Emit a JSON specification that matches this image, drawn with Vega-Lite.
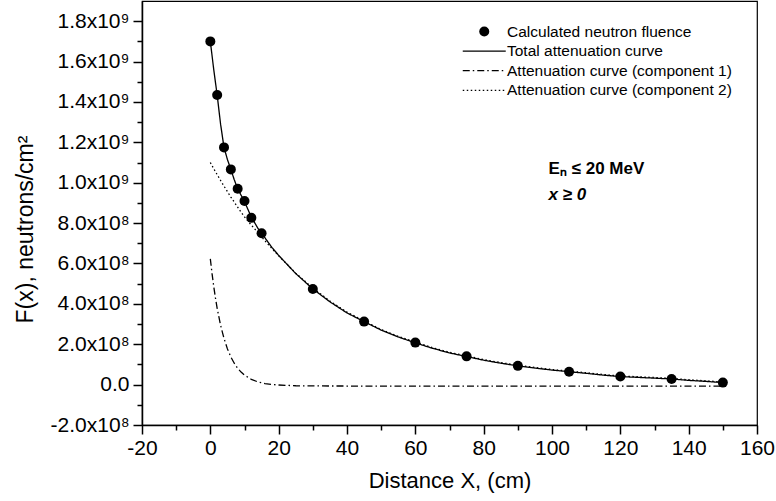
{
  "$schema": "https://vega.github.io/schema/vega-lite/v6.json",
  "width": 615,
  "height": 424,
  "autosize": {"type": "none"},
  "padding": {"left": 142, "top": 1, "right": 19, "bottom": 76},
  "background": "white",
  "config": {
    "view": {"stroke": "black", "strokeWidth": 1.2},
    "font": "Liberation Sans",
    "axis": {
      "domainColor": "black", "tickColor": "black", "labelColor": "black", "titleColor": "black",
      "grid": false, "domainWidth": 1.5, "tickWidth": 1.5,
      "labelFont": "Liberation Sans", "titleFont": "Liberation Sans",
      "labelFontSize": 21, "titleFontSize": 22, "titleFontWeight": "normal"
    }
  },
  "datasets": {
    "fluence": [
      {"x": 0, "y": 1.700e9}, {"x": 2, "y": 1.434e9}, {"x": 4, "y": 1.175e9}, {"x": 6, "y": 1.066e9},
      {"x": 8, "y": 0.970e9}, {"x": 10, "y": 0.909e9}, {"x": 12, "y": 0.826e9}, {"x": 15, "y": 0.750e9},
      {"x": 30, "y": 0.474e9}, {"x": 45, "y": 0.312e9}, {"x": 60, "y": 0.208e9}, {"x": 75, "y": 0.140e9},
      {"x": 90, "y": 0.093e9}, {"x": 105, "y": 0.064e9}, {"x": 120, "y": 0.040e9}, {"x": 135, "y": 0.028e9},
      {"x": 150, "y": 0.010e9}
    ],
    "curves": [
      {"x": 0, "y": 1.700e9, "series": "Total attenuation curve"},
      {"x": 1, "y": 1.560e9, "series": "Total attenuation curve"},
      {"x": 2, "y": 1.434e9, "series": "Total attenuation curve"},
      {"x": 3, "y": 1.290e9, "series": "Total attenuation curve"},
      {"x": 4, "y": 1.175e9, "series": "Total attenuation curve"},
      {"x": 5, "y": 1.115e9, "series": "Total attenuation curve"},
      {"x": 6, "y": 1.066e9, "series": "Total attenuation curve"},
      {"x": 7, "y": 1.015e9, "series": "Total attenuation curve"},
      {"x": 8, "y": 0.970e9, "series": "Total attenuation curve"},
      {"x": 9, "y": 0.938e9, "series": "Total attenuation curve"},
      {"x": 10, "y": 0.906e9, "series": "Total attenuation curve"},
      {"x": 12, "y": 0.830e9, "series": "Total attenuation curve"},
      {"x": 14, "y": 0.772e9, "series": "Total attenuation curve"},
      {"x": 15, "y": 0.750e9, "series": "Total attenuation curve"},
      {"x": 18, "y": 0.680e9, "series": "Total attenuation curve"},
      {"x": 20, "y": 0.640e9, "series": "Total attenuation curve"},
      {"x": 25, "y": 0.550e9, "series": "Total attenuation curve"},
      {"x": 30, "y": 0.474e9, "series": "Total attenuation curve"},
      {"x": 35, "y": 0.410e9, "series": "Total attenuation curve"},
      {"x": 40, "y": 0.355e9, "series": "Total attenuation curve"},
      {"x": 45, "y": 0.312e9, "series": "Total attenuation curve"},
      {"x": 50, "y": 0.270e9, "series": "Total attenuation curve"},
      {"x": 55, "y": 0.236e9, "series": "Total attenuation curve"},
      {"x": 60, "y": 0.207e9, "series": "Total attenuation curve"},
      {"x": 65, "y": 0.180e9, "series": "Total attenuation curve"},
      {"x": 70, "y": 0.157e9, "series": "Total attenuation curve"},
      {"x": 75, "y": 0.139e9, "series": "Total attenuation curve"},
      {"x": 80, "y": 0.121e9, "series": "Total attenuation curve"},
      {"x": 85, "y": 0.106e9, "series": "Total attenuation curve"},
      {"x": 90, "y": 0.093e9, "series": "Total attenuation curve"},
      {"x": 95, "y": 0.082e9, "series": "Total attenuation curve"},
      {"x": 100, "y": 0.072e9, "series": "Total attenuation curve"},
      {"x": 105, "y": 0.064e9, "series": "Total attenuation curve"},
      {"x": 110, "y": 0.056e9, "series": "Total attenuation curve"},
      {"x": 115, "y": 0.047e9, "series": "Total attenuation curve"},
      {"x": 120, "y": 0.040e9, "series": "Total attenuation curve"},
      {"x": 125, "y": 0.036e9, "series": "Total attenuation curve"},
      {"x": 130, "y": 0.032e9, "series": "Total attenuation curve"},
      {"x": 135, "y": 0.028e9, "series": "Total attenuation curve"},
      {"x": 140, "y": 0.021e9, "series": "Total attenuation curve"},
      {"x": 145, "y": 0.016e9, "series": "Total attenuation curve"},
      {"x": 150, "y": 0.010e9, "series": "Total attenuation curve"},

      {"x": 0, "y": 0.623e9, "series": "Attenuation curve (component 1)"},
      {"x": 0.5, "y": 0.550e9, "series": "Attenuation curve (component 1)"},
      {"x": 1, "y": 0.486e9, "series": "Attenuation curve (component 1)"},
      {"x": 1.5, "y": 0.429e9, "series": "Attenuation curve (component 1)"},
      {"x": 2, "y": 0.378e9, "series": "Attenuation curve (component 1)"},
      {"x": 3, "y": 0.294e9, "series": "Attenuation curve (component 1)"},
      {"x": 4, "y": 0.229e9, "series": "Attenuation curve (component 1)"},
      {"x": 5, "y": 0.177e9, "series": "Attenuation curve (component 1)"},
      {"x": 6, "y": 0.137e9, "series": "Attenuation curve (component 1)"},
      {"x": 7, "y": 0.106e9, "series": "Attenuation curve (component 1)"},
      {"x": 8, "y": 0.081e9, "series": "Attenuation curve (component 1)"},
      {"x": 9, "y": 0.062e9, "series": "Attenuation curve (component 1)"},
      {"x": 10, "y": 0.047e9, "series": "Attenuation curve (component 1)"},
      {"x": 12, "y": 0.026e9, "series": "Attenuation curve (component 1)"},
      {"x": 14, "y": 0.013e9, "series": "Attenuation curve (component 1)"},
      {"x": 16, "y": 0.005e9, "series": "Attenuation curve (component 1)"},
      {"x": 18, "y": 0.001e9, "series": "Attenuation curve (component 1)"},
      {"x": 20, "y": -0.002e9, "series": "Attenuation curve (component 1)"},
      {"x": 25, "y": -0.0056e9, "series": "Attenuation curve (component 1)"},
      {"x": 30, "y": -0.0066e9, "series": "Attenuation curve (component 1)"},
      {"x": 40, "y": -0.007e9, "series": "Attenuation curve (component 1)"},
      {"x": 60, "y": -0.007e9, "series": "Attenuation curve (component 1)"},
      {"x": 80, "y": -0.007e9, "series": "Attenuation curve (component 1)"},
      {"x": 100, "y": -0.007e9, "series": "Attenuation curve (component 1)"},
      {"x": 120, "y": -0.007e9, "series": "Attenuation curve (component 1)"},
      {"x": 150, "y": -0.007e9, "series": "Attenuation curve (component 1)"},

      {"x": 0, "y": 1.100e9, "series": "Attenuation curve (component 2)"},
      {"x": 1, "y": 1.0695e9, "series": "Attenuation curve (component 2)"},
      {"x": 2, "y": 1.040e9, "series": "Attenuation curve (component 2)"},
      {"x": 3, "y": 1.011e9, "series": "Attenuation curve (component 2)"},
      {"x": 4, "y": 0.983e9, "series": "Attenuation curve (component 2)"},
      {"x": 5, "y": 0.956e9, "series": "Attenuation curve (component 2)"},
      {"x": 6, "y": 0.929e9, "series": "Attenuation curve (component 2)"},
      {"x": 7, "y": 0.904e9, "series": "Attenuation curve (component 2)"},
      {"x": 8, "y": 0.879e9, "series": "Attenuation curve (component 2)"},
      {"x": 9, "y": 0.854e9, "series": "Attenuation curve (component 2)"},
      {"x": 10, "y": 0.831e9, "series": "Attenuation curve (component 2)"},
      {"x": 12, "y": 0.790e9, "series": "Attenuation curve (component 2)"},
      {"x": 14, "y": 0.752e9, "series": "Attenuation curve (component 2)"},
      {"x": 16, "y": 0.712e9, "series": "Attenuation curve (component 2)"},
      {"x": 18, "y": 0.675e9, "series": "Attenuation curve (component 2)"},
      {"x": 20, "y": 0.638e9, "series": "Attenuation curve (component 2)"},
      {"x": 25, "y": 0.552e9, "series": "Attenuation curve (component 2)"},
      {"x": 30, "y": 0.478e9, "series": "Attenuation curve (component 2)"},
      {"x": 35, "y": 0.414e9, "series": "Attenuation curve (component 2)"},
      {"x": 40, "y": 0.359e9, "series": "Attenuation curve (component 2)"},
      {"x": 45, "y": 0.315e9, "series": "Attenuation curve (component 2)"},
      {"x": 50, "y": 0.273e9, "series": "Attenuation curve (component 2)"},
      {"x": 55, "y": 0.239e9, "series": "Attenuation curve (component 2)"},
      {"x": 60, "y": 0.210e9, "series": "Attenuation curve (component 2)"},
      {"x": 65, "y": 0.183e9, "series": "Attenuation curve (component 2)"},
      {"x": 70, "y": 0.160e9, "series": "Attenuation curve (component 2)"},
      {"x": 75, "y": 0.142e9, "series": "Attenuation curve (component 2)"},
      {"x": 80, "y": 0.124e9, "series": "Attenuation curve (component 2)"},
      {"x": 85, "y": 0.109e9, "series": "Attenuation curve (component 2)"},
      {"x": 90, "y": 0.096e9, "series": "Attenuation curve (component 2)"},
      {"x": 95, "y": 0.085e9, "series": "Attenuation curve (component 2)"},
      {"x": 100, "y": 0.075e9, "series": "Attenuation curve (component 2)"},
      {"x": 105, "y": 0.067e9, "series": "Attenuation curve (component 2)"},
      {"x": 110, "y": 0.059e9, "series": "Attenuation curve (component 2)"},
      {"x": 115, "y": 0.050e9, "series": "Attenuation curve (component 2)"},
      {"x": 120, "y": 0.043e9, "series": "Attenuation curve (component 2)"},
      {"x": 125, "y": 0.039e9, "series": "Attenuation curve (component 2)"},
      {"x": 130, "y": 0.035e9, "series": "Attenuation curve (component 2)"},
      {"x": 135, "y": 0.031e9, "series": "Attenuation curve (component 2)"},
      {"x": 140, "y": 0.024e9, "series": "Attenuation curve (component 2)"},
      {"x": 145, "y": 0.019e9, "series": "Attenuation curve (component 2)"},
      {"x": 150, "y": 0.013e9, "series": "Attenuation curve (component 2)"}
    ]
  },
  "layer": [
    {
      "data": {"name": "curves"},
      "mark": {"type": "line", "color": "black", "strokeWidth": 1.3},
      "encoding": {
        "x": {
          "field": "x", "type": "quantitative",
          "scale": {"domain": [-20, 160], "nice": false, "zero": false},
          "axis": {
            "orient": "bottom",
            "values": [-20, 0, 20, 40, 60, 80, 100, 120, 140, 160],
            "labelExpr": "datum.value < 0 ? '-' + abs(datum.value) : '' + datum.value",
            "tickSize": 9, "labelPadding": 3, "labelFlush": false,
            "title": "Distance X, (cm)", "titlePadding": 12
          }
        },
        "y": {
          "field": "y", "type": "quantitative",
          "scale": {"domain": [-2e8, 1.9e9], "nice": false, "zero": false},
          "axis": {
            "orient": "left",
            "values": [-2e8, 0, 2e8, 4e8, 6e8, 8e8, 1e9, 1.2e9, 1.4e9, 1.6e9, 1.8e9],
            "labelExpr": "abs(datum.value) < 1 ? '0.0' : (datum.value < 0 ? '-' : '') + (abs(datum.value) >= 9.99e8 ? format(abs(datum.value) / 1e9, '.1f') + 'x10⁹' : format(abs(datum.value) / 1e8, '.1f') + 'x10⁸')",
            "tickSize": 9, "labelPadding": 4, "labelFlush": false,
            "title": "F(x), neutrons/cm²", "titlePadding": 13, "titleFontSize": 23, "titleY": 228
          }
        },
        "strokeDash": {
          "field": "series", "type": "nominal",
          "scale": {
            "domain": ["Calculated neutron fluence", "Total attenuation curve", "Attenuation curve (component 1)", "Attenuation curve (component 2)"],
            "range": [[1, 0], [1, 0], [7, 3, 1.5, 3], [1.5, 2.5]]
          },
          "legend": {
            "title": null, "orient": "none", "legendX": 320, "legendY": 23,
            "columns": 1, "padding": 0,
            "labelFontSize": 15.5, "labelFont": "Liberation Sans", "labelColor": "black", "labelLimit": 400,
            "symbolType": "stroke", "symbolSize": 1849, "symbolStrokeColor": "black", "symbolStrokeWidth": 1.3,
            "clipHeight": 15, "rowPadding": 3.6, "labelOffset": 15, "symbolOffset": 14.5,
            "encode": {
              "symbols": {
                "update": {
                  "shape": {"signal": "datum.value === 'Calculated neutron fluence' ? 'circle' : 'stroke'"},
                  "size": {"signal": "datum.value === 'Calculated neutron fluence' ? 100 : 1849"},
                  "fill": {"signal": "datum.value === 'Calculated neutron fluence' ? 'black' : 'transparent'"},
                  "stroke": {"value": "black"},
                  "strokeWidth": {"signal": "datum.value === 'Calculated neutron fluence' ? 0 : 1.3"},
                  "opacity": {"value": 1}
                }
              }
            }
          }
        }
      }
    },
    {
      "data": {"name": "fluence"},
      "mark": {"type": "point", "filled": true, "color": "black", "size": 100, "opacity": 1},
      "encoding": {
        "x": {
          "field": "x", "type": "quantitative",
          "axis": {"orient": "bottom", "values": [-10, 10, 30, 50, 70, 90, 110, 130, 150], "labels": false, "tickSize": 5, "domain": false, "title": null}
        },
        "y": {
          "field": "y", "type": "quantitative",
          "axis": {"orient": "left", "values": [-1e8, 1e8, 3e8, 5e8, 7e8, 9e8, 1.1e9, 1.3e9, 1.5e9, 1.7e9], "labels": false, "tickSize": 5, "domain": false, "title": null}
        }
      }
    },
    {
      "data": {"values": [{}]},
      "mark": {"type": "text", "align": "left", "baseline": "middle", "fontSize": 17, "fontWeight": "bold", "font": "Liberation Sans", "color": "black"},
      "encoding": {
        "x": {"datum": 99, "type": "quantitative", "axis": null},
        "y": {"datum": 1.069e9, "type": "quantitative", "axis": null},
        "text": {"value": "Eₙ ≤  20 MeV"}
      }
    },
    {
      "data": {"values": [{}]},
      "mark": {"type": "text", "align": "left", "baseline": "middle", "fontSize": 17, "fontWeight": "bold", "fontStyle": "italic", "font": "Liberation Sans", "color": "black"},
      "encoding": {
        "x": {"datum": 99, "type": "quantitative", "axis": null},
        "y": {"datum": 0.940e9, "type": "quantitative", "axis": null},
        "text": {"value": "x ≥ 0"}
      }
    }
  ],
  "resolve": {"axis": {"x": "independent", "y": "independent"}}
}
